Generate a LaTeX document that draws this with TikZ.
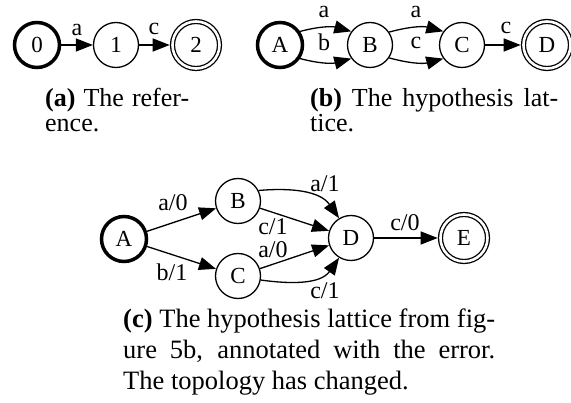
\documentclass[tikz,border=0pt]{standalone}
\usepackage{fontspec}
\setmainfont{Liberation Serif}
\usetikzlibrary{arrows.meta}
\begin{document}
\begin{tikzpicture}[x=1pt,y=-1pt,
  st/.style={circle,draw,line width=1.3pt,minimum size=45pt,inner sep=0pt,font=\fontsize{23}{25}\selectfont},
  init/.style={st,line width=3.5pt},
  fin/.style={st,minimum size=47pt,double,double distance=2.6pt,outer sep=2.8pt},
  tr/.style={line width=1.3pt,-{Triangle[length=17pt,width=13pt]}},
  lbl/.style={inner sep=0pt,font=\fontsize{24}{26}\selectfont},
  capab/.style={anchor=base west,inner sep=0pt,font=\fontsize{26}{28}\selectfont},
  capc/.style={anchor=base west,inner sep=0pt,font=\fontsize{26.5}{28}\selectfont}]
\useasboundingbox (0,0) rectangle (571,403);
% (a)
\node[init] (a0) at (37,45) {0};
\node[st]   (a1) at (116,45) {1};
\node[fin]  (a2) at (196,45) {2};
\draw[tr] (a0) -- (a1);
\draw[tr] (a1) -- (a2);
\node[lbl] (la1) at (77,30) {a};
\node[lbl] (la2) at (154,29) {c};
\node[capab] (ca1) at (45,107) {\hbox to 144pt{\textbf{(a)} The refer-}};
\node[capab] (ca2) at (45,132) {ence.};
% (b)
\node[init] (bA) at (280,45) {A};
\node[st]   (bB) at (370,45) {B};
\node[st]   (bC) at (462,45) {C};
\node[fin]  (bD) at (547,45) {D};
\draw[tr] (bA.34) to[out=15,in=165] (bB.144);
\draw[tr] (bA.-34) to[out=-15,in=-165] (bB.-144);
\draw[tr] (bB.34) to[out=15,in=165] (bC.144);
\draw[tr] (bB.-34) to[out=-15,in=-165] (bC.-144);
\draw[tr] (bC) -- (bD);
\node[lbl] (lb1) at (324,12) {a};
\node[lbl] (lb2) at (324,42) {b};
\node[lbl] (lb3) at (416,12) {a};
\node[lbl] (lb4) at (416,43) {c};
\node[lbl] (lb5) at (506,28) {c};
\node[capab] (cb1) at (310,107) {\hbox to 248pt{\textbf{(b)} The hypothesis lat-}};
\node[capab] (cb2) at (310,132) {tice.};
% (c)
\node[init] (cA) at (124,239) {A};
\node[st]   (cB) at (238,201) {B};
\node[st]   (cC) at (238,276) {C};
\node[st]   (cD) at (351,238) {D};
\node[fin]  (cE) at (464,238) {E};
\draw[tr] (cA) -- (cB);
\draw[tr] (cA) -- (cC);
\draw[tr] (cB.27) to[out=5,in=125] (cD.121);
\draw[tr] (cB) -- (cD);
\draw[tr] (cC) -- (cD);
\draw[tr] (cC.-10) to[out=-8,in=-125] (cD.-121);
\draw[tr] (cD) -- (cE);
\node[lbl] (lc1) at (173,203) {a/0};
\node[lbl] (lc2) at (172,272) {b/1};
\node[lbl] (lc3) at (325,184) {a/1};
\node[lbl] (lc4) at (273,227) {c/1};
\node[lbl] (lc5) at (273,250) {a/0};
\node[lbl] (lc6) at (325,291) {c/1};
\node[lbl] (lc7) at (405,223) {c/0};
\node[capc] (cc1) at (123,328) {\hbox to 372pt{\textbf{(c)} The hypothesis lattice from fig-}};
\node[capc] (cc2) at (123,359) {\hbox to 372pt{ure 5b, annotated with the error.}};
\node[capc] (cc3) at (123,390) {The topology has changed.};
\end{tikzpicture}
\end{document}
